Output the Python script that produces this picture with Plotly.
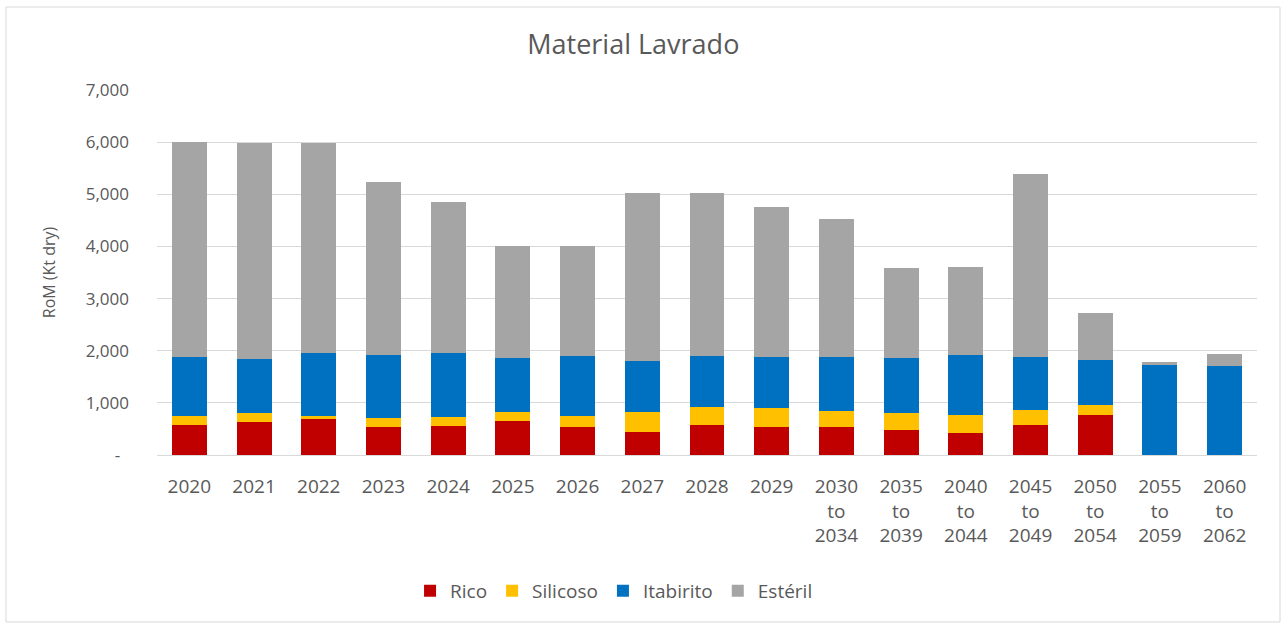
import plotly.graph_objects as go

# Mined material per period (kt dry)
periods = ["2020", "2021", "2022", "2023", "2024", "2025", "2026", "2027", "2028",
           "2029", "2030<br>to<br>2034", "2035<br>to<br>2039", "2040<br>to<br>2044",
           "2045<br>to<br>2049", "2050<br>to<br>2054", "2055<br>to<br>2059",
           "2060<br>to<br>2062"]
rico = [570, 640, 690, 540, 560, 650, 540, 440, 580, 540, 540, 480, 420, 580, 770, 0, 0]
silicoso = [180, 170, 60, 170, 170, 170, 210, 380, 340, 360, 310, 320, 350, 290, 190, 0, 0]
itabirito = [1130, 1040, 1210, 1210, 1230, 1040, 1150, 980, 980, 980, 1030, 1060, 1150,
             1010, 860, 1720, 1710]
esteril = [4120, 4140, 4030, 3310, 2890, 2140, 2100, 3220, 3120, 2880, 2640, 1720, 1680,
           3500, 910, 60, 230]

y_ticks = [0, 1000, 2000, 3000, 4000, 5000, 6000, 7000]
y_ticktext = ["-  ", "1,000", "2,000", "3,000", "4,000", "5,000", "6,000", "7,000"]

series = [
    ("Rico", rico, "#C00000"),
    ("Silicoso", silicoso, "#FFC000"),
    ("Itabirito", itabirito, "#0070C0"),
    ("Estéril", esteril, "#A5A5A5"),
]

TEXT = "#595959"
GRID = "#D9D9D9"

fig = go.Figure()
for name, vals, color in series:
    fig.add_trace(go.Bar(name=name, x=periods, y=vals, marker_color=color,
                         marker_line_width=0))

fig.update_layout(
    width=1282, height=624,
    barmode="stack", bargap=0.46,
    paper_bgcolor="white", plot_bgcolor="white",
    margin=dict(l=157, r=25, t=90, b=169),
    font=dict(family="Open Sans, sans-serif", color=TEXT),
    title=dict(text="Material Lavrado", x=0.494, xref="container", xanchor="center",
               y=0.928, yanchor="middle",
               font=dict(family="Open Sans, sans-serif", size=27, color=TEXT)),
    legend=dict(orientation="h", x=0.4155, xanchor="center", y=-0.372, yanchor="middle",
                font=dict(family="Open Sans, sans-serif", size=19, color=TEXT),
                itemwidth=30, traceorder="normal"),
    showlegend=True,
)

fig.update_xaxes(
    type="category", showgrid=False, showline=True, linecolor=GRID, linewidth=1,
    ticks="", ticklabelstandoff=14,
    tickfont=dict(family="Open Sans, sans-serif", size=19, color=TEXT),
    tickangle=0,
)
fig.update_yaxes(
    range=[0, 7000], tickvals=y_ticks, ticktext=y_ticktext,
    showgrid=True, gridcolor=GRID, gridwidth=1, zeroline=False, showline=False,
    ticks="", ticklabelstandoff=27,
    tickfont=dict(family="Open Sans, sans-serif", size=17, color=TEXT),
    title=dict(text="RoM (Kt dry)", standoff=26,
               font=dict(family="Open Sans, sans-serif", size=16, color=TEXT)),
)

# chart-area frame
fig.add_shape(type="rect", xref="paper", yref="paper",
              x0=-0.1373, x1=1.0209, y0=-0.4575, y1=1.2274,
              line=dict(color=GRID, width=1), fillcolor="rgba(0,0,0,0)", layer="below")

fig.write_html("out.html")
